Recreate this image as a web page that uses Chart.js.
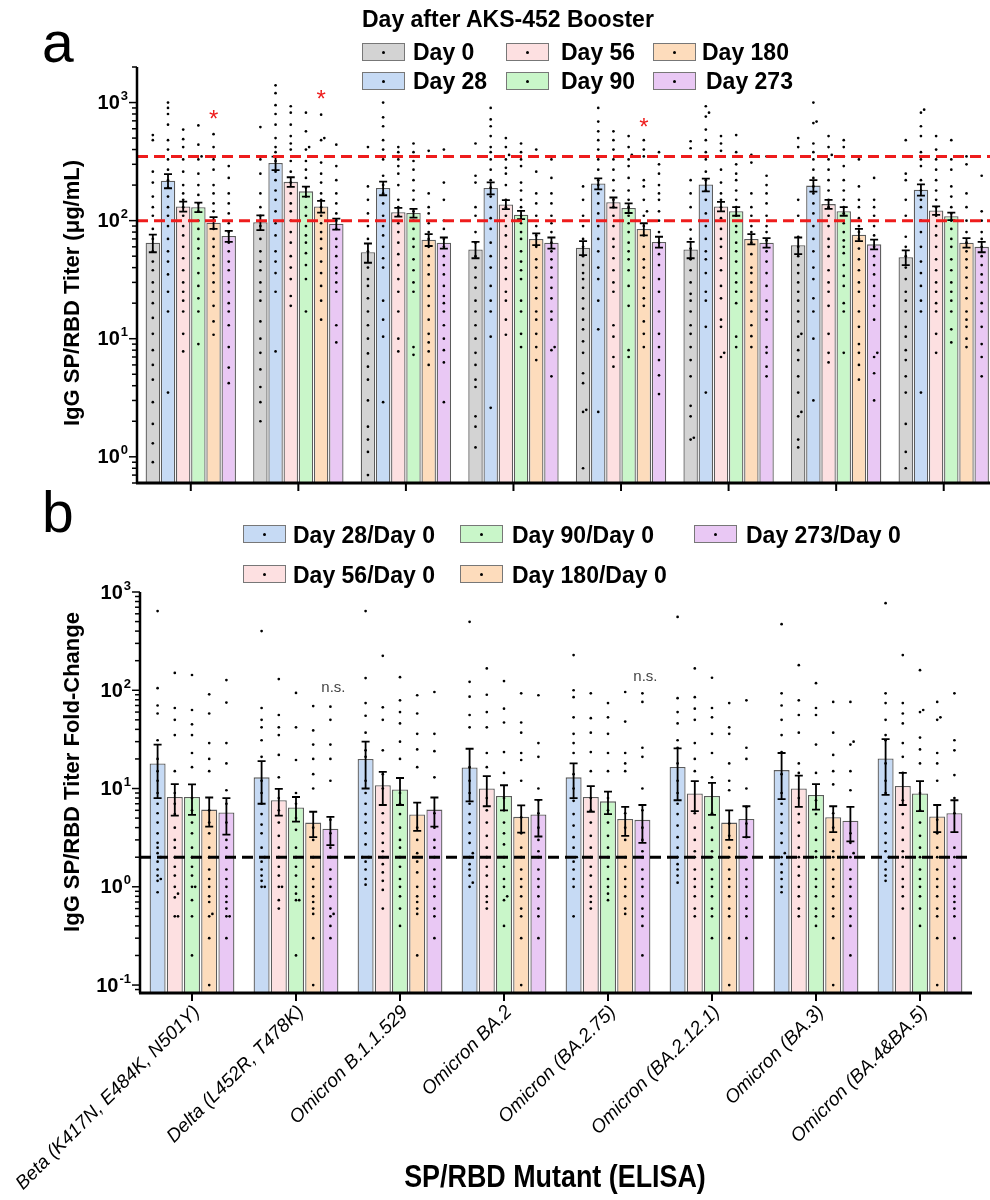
<!DOCTYPE html>
<html>
<head>
<meta charset="utf-8">
<script src="https://cdn.jsdelivr.net/npm/chart.js@4.4.1/dist/chart.umd.min.js"></script>
<style>
  html, body { margin: 0; padding: 0; overflow: hidden; background: #fff; }
  #wrap { position: relative; width: 990px; height: 1200px; overflow: hidden; font-family: 'Liberation Sans', Arial, sans-serif; color: #000; }
  canvas { position: absolute; left: 0; }
  .t { position: absolute; white-space: nowrap; line-height: 1; }
  .lg { position: absolute; white-space: nowrap; font-weight: bold; font-size: 23px; line-height: 1; }
  .box { position: absolute; width: 41px; height: 16px; border: 1.5px solid #777; }
  .box::after { content: ''; position: absolute; left: 50%; top: 50%; width: 3px; height: 3px; margin: -1.5px 0 0 -1.5px; background: #000; border-radius: 50%; }
  .rot { position: absolute; white-space: nowrap; line-height: 1; font-weight: bold; transform: translate(-50%, -50%) rotate(-90deg); }
</style>
</head>
<body>
<div id="wrap">
  <canvas id="chartA" width="1000" height="500" style="top:0;width:1000px;height:500px"></canvas>
  <canvas id="chartB" width="990" height="700" style="top:500px;width:990px;height:700px"></canvas>

  <div class="t" style="left:42px;top:14px;font-size:57px">a</div>
  <div class="t" style="left:42px;top:484px;font-size:57px">b</div>

  <div class="lg" style="left:362px;top:8px">Day after AKS-452 Booster</div>
  <div class="box" style="left:362px;top:43px;background:#d3d3d3"></div><div class="lg" style="left:413px;top:41px">Day 0</div>
  <div class="box" style="left:506px;top:43px;background:#fde0e1"></div><div class="lg" style="left:561px;top:41px">Day 56</div>
  <div class="box" style="left:653px;top:43px;background:#fddcbc"></div><div class="lg" style="left:702px;top:41px">Day 180</div>
  <div class="box" style="left:362px;top:72px;background:#c6daf4"></div><div class="lg" style="left:413px;top:70px">Day 28</div>
  <div class="box" style="left:506px;top:72px;background:#c9f6c9"></div><div class="lg" style="left:561px;top:70px">Day 90</div>
  <div class="box" style="left:653px;top:72px;background:#e9c8f4"></div><div class="lg" style="left:706px;top:70px">Day 273</div>

  <div class="box" style="left:243px;top:525px;background:#c6daf4"></div><div class="lg" style="left:293px;top:524px">Day 28/Day 0</div>
  <div class="box" style="left:460px;top:525px;background:#c9f6c9"></div><div class="lg" style="left:512px;top:524px">Day 90/Day 0</div>
  <div class="box" style="left:694px;top:525px;background:#e9c8f4"></div><div class="lg" style="left:746px;top:524px">Day 273/Day 0</div>
  <div class="box" style="left:243px;top:565px;background:#fde0e1"></div><div class="lg" style="left:293px;top:564px">Day 56/Day 0</div>
  <div class="box" style="left:460px;top:565px;background:#fddcbc"></div><div class="lg" style="left:512px;top:564px">Day 180/Day 0</div>

  <div class="rot" style="left:72px;top:293px;font-size:22px">IgG SP/RBD Titer (μg/mL)</div>
  <div class="rot" style="left:72px;top:772px;font-size:22px">IgG SP/RBD Titer Fold-Change</div>
  <div class="t" style="left:555px;top:1160px;font-size:32px;font-weight:bold;transform:translateX(-50%) scaleX(0.84)">SP/RBD Mutant (ELISA)</div>
</div>

<script>
// ---- data ----
const mutants = ['Beta (K417N, E484K, N501Y)', 'Delta (L452R, T478K)', 'Omicron B.1.1.529', 'Omicron BA.2',
  'Omicron (BA.2.75)', 'Omicron (BA.2.12.1)', 'Omicron (BA.3)', 'Omicron (BA.4&BA.5)'];

// panel a: mean titer (ug/mL) per mutant
const meanDay0   = [65, 97, 54, 57, 59, 57, 62, 49];
const meanDay28  = [218, 308, 189, 189, 206, 202, 198, 183];
const meanDay56  = [132, 213, 118, 137, 143, 132, 138, 122];
const meanDay90  = [130, 177, 116, 112, 128, 120, 120, 109];
const meanDay180 = [96, 132, 69, 70, 85, 70, 76, 65];
const meanDay273 = [74, 94, 65, 65, 66, 65, 63, 60];

const semDay0   = [11, 14, 10, 9, 8, 9, 10, 7];
const semDay28  = [30, 40, 25, 22, 22, 25, 22, 20];
const semDay56  = [13, 20, 10, 12, 14, 12, 12, 10];
const semDay90  = [12, 17, 10, 9, 12, 10, 10, 8];
const semDay180 = [11, 15, 8, 8, 10, 7, 9, 6];
const semDay273 = [8, 10, 7, 7, 7, 6, 6, 6];

// individual subjects (approximate)
const dotsDay0 = [
  [530,480,260,210,160,130,110,85,70,55,45,38,30,25,20,15,11,8,6,4.5,2.9,1.9,1.3,0.9],
  [620,330,250,170,130,110,90,70,55,45,38,30,25,21,14,10,7.6,5.5,3.9,2.9,2.0],
  [420,195,150,115,90,70,55,40,32,28,22,17,13,10,7.5,5.8,4.5,3,1.8,1.4,1.1,0.7],
  [450,240,210,130,110,80,65,50,40,33,27,21,17,13,10,7.6,6,4.5,3.9,2.2,1.8,1.2],
  [195,150,110,90,70,60,50,42,36,32,27,22,18,14.5,12,9.5,7.6,5.1,4.2,2.5,2.4,0.8],
  [470,410,220,170,130,84,70,58,47,38,30,24,21,17,13,11,8.5,6.6,4.8,2.7,2.2,1.45,1.4],
  [500,420,150,110,73,60,50,42,36,30,25,21,17,14,11,10.4,8,6.6,4.8,3.5,2.4,2.2,1.4,1.2],
  [480,350,250,220,150,110,73,60,50,40,32,25,21,17,12.6,10.4,8,6.6,4.8,3.5,1.9,1.1,0.8]
];
const dotsDay28 = [
  [1000,900,800,650,480,400,330,270,220,190,160,130,110,90,70,55,45,35,25,17,3.5],
  [1400,1200,950,800,650,500,420,380,320,260,220,180,150,120,95,75,55,45,36,25,7.8],
  [1000,750,630,480,400,330,240,200,170,140,110,90,75,60,48,40,21,14.5,10.4,2.9],
  [900,720,630,520,420,380,330,270,220,190,160,130,105,85,65,50,40,28,21,17,10.4,2.6],
  [900,690,570,480,400,330,270,220,200,170,140,115,90,70,55,40,32,21,12,2.4],
  [930,820,760,590,480,380,330,260,220,180,150,115,90,70,55,47,36,25,21,12.6,3.5],
  [1000,690,670,450,380,330,270,230,195,170,140,115,90,70,55,40,32,22,17,10,3],
  [870,820,630,520,380,330,290,220,180,150,130,100,80,60,45,36,28,21,17,3.5]
];
const dotsDay56 = [
  [590,490,420,330,260,200,170,150,130,110,90,75,60,48,38,30,25,21,17,11,7.8],
  [930,820,650,520,450,400,320,260,210,170,140,120,100,80,65,50,40,32,23,19],
  [420,380,330,290,250,200,150,130,110,95,80,65,52,42,32,25,17,10,7.8],
  [500,420,360,330,280,250,200,150,130,110,90,75,60,48,40,32,25,21,14.5,10.8],
  [570,480,400,330,270,220,180,150,130,110,90,70,60,48,38,30,25,13,10.4,7,5.8],
  [520,450,390,350,270,210,170,150,130,105,85,70,60,48,38,28,22,14.5,12.6,7.6,7],
  [520,420,360,330,270,220,180,150,130,110,90,70,60,50,38,30,25,19,11,7.6,6.3],
  [520,400,330,270,220,180,150,130,110,90,75,60,47,38,30,25,20,17,11,7.6]
];
const dotsDay90 = [
  [640,440,350,330,250,200,165,140,120,100,85,70,58,48,36,28,22,17,9],
  [820,570,420,400,320,270,230,190,160,130,110,90,75,65,53,42,32,17],
  [450,380,320,270,220,180,150,120,100,85,70,60,47,38,30,25,8.5,7.3],
  [450,380,330,290,210,180,150,130,110,95,80,70,55,45,38,32,21,17,11,8.5],
  [520,420,360,330,290,230,180,150,130,110,95,80,65,55,47,38,28,19,8,7],
  [530,380,300,250,220,180,150,130,110,90,80,65,55,45,36,30,25,20,10.4,8.5],
  [480,420,350,290,220,180,150,130,115,95,80,68,60,53,42,34,28,20,17,7.6],
  [480,330,270,195,160,130,115,100,85,70,60,47,38,30,25,21,17,12,9.3]
];
const dotsDay180 = [
  [540,420,330,270,200,170,140,120,100,85,70,60,50,42,36,30,25,19,14,10.8],
  [790,500,480,310,250,210,170,150,130,110,95,80,70,58,45,36,28,21,14.5],
  [390,170,130,115,95,80,70,60,50,42,35,28,23,19,14.5,11,9.3,7.8,6],
  [400,260,170,140,110,90,75,60,47,40,33,27,22,17,14.5,11,8.5,6.6],
  [480,400,350,220,195,150,120,110,90,75,60,47,40,33,27,22,19,14,11,8.5],
  [360,310,170,130,110,90,80,65,52,40,36,30,25,21,17,13,10.5,8.5],
  [330,195,150,130,105,90,80,70,58,47,38,30,25,17,12.6,9,7.6,6,4.5],
  [350,300,170,130,100,80,65,55,47,40,33,27,22,17,14.5,12.6,10,8.5]
];
const dotsDay273 = [
  [350,290,230,170,140,115,95,80,65,55,45,38,30,25,20,17,13,8.5,5.7,4.2],
  [440,290,220,170,140,115,100,85,70,60,50,40,36,30,25,13,9.3],
  [400,210,150,100,85,70,60,50,42,35,28,23,20,17,13,10,8,6.3,2.9],
  [330,230,170,140,110,95,80,65,55,47,40,33,27,22,17,14.5,8.5,8,4.8],
  [380,300,250,200,170,150,120,100,80,65,52,42,32,25,17,11,8.5,6.6,4.9,3.4],
  [350,240,200,170,140,110,90,80,68,55,45,36,28,21,17,14.5,8.5,7.6,5.8,4.8],
  [230,150,130,110,90,75,60,50,42,35,28,23,19,14.5,7.6,7,5.1,3],
  [240,120,100,80,70,60,50,42,35,30,25,20,17,12.6,9,7,4.8]
];
const thresholdsA = [100, 350];
const starDay180 = [760, 1130, null, null, 650, null, null, null];

// panel b: fold change vs Day 0
const fold28  = [18, 13, 20, 16.4, 13, 16.6, 15.4, 20.2];
const fold56  = [8.2, 7.6, 10.8, 10, 8.2, 8.9, 10, 10.6];
const fold90  = [8.2, 6.4, 9.8, 8.4, 7.4, 8.4, 8.6, 8.9];
const fold180 = [6.1, 4.5, 5.45, 5.15, 4.9, 4.5, 5.1, 5.2];
const fold273 = [5.7, 3.9, 6.1, 5.45, 4.8, 4.9, 4.7, 5.6];

const semFold28  = [10, 6, 10, 9, 5, 9, 7.6, 11.6];
const semFold56  = [2.9, 2.3, 4, 3.4, 2.4, 3, 3.5, 3.8];
const semFold90  = [2.8, 1.8, 3, 2.4, 1.9, 3, 2.5, 3];
const semFold180 = [2, 1.3, 1.75, 1.6, 1.6, 1.5, 1.5, 1.6];
const semFold273 = [2.3, 1.25, 2, 2.2, 2, 1.7, 1.8, 2];

const dotsFold28 = [
  [640,105,70,58,31,20,15,12,9,7,5.6,4.5,3.5,2.8,2.5,2.2,2,1.8,1.5,1.3,1.2,1.15,0.88],
  [400,66,50,42,31,21,12,9,7,5.5,4.3,3.5,2.5,2,1.8,1.5,1.3,1.15,1,1],
  [640,133,74,55,37,24.5,21,12,9,7,5.5,4.5,3.5,2.7,2,2,1.8,1.5,1.2,1.05],
  [497,122,86,56,42,16.5,12,9,7,5.5,4.5,3.5,2.8,2.2,2,1.7,1.5,1.3,1.1,1],
  [228,100,85,53,36,29,23,14,10,7.5,5.5,4.2,3.2,2.5,2,1.8,1.5,1.2,1,0.5],
  [558,83,60,46,31,26,18,12,9,7,5.5,4.2,3.2,2.5,2,1.7,1.5,1.3,1.1],
  [471,93,70,50,35,23.5,14,9,7,5.5,4.5,3.5,2.8,2.2,2,1.7,1.4,1.2,1,0.88],
  [770,93,74,50,35,31,18,12,9,7,5.5,4.5,3.5,2.8,2.3,2,1.8,1.5,1.3,1.15]
];
const dotsFold56 = [
  [150,66,50,35,15,9,7,5.5,4,3,2.5,2,1.6,1.3,1,0.85,0.78,0.5,0.5],
  [130,56,42,35,22,13,8,6,4.5,3.3,2.5,2,1.6,1.3,1,1,0.73,0.6],
  [224,67,50,24.5,14,10,5.6,4.5,3.5,2.8,2.3,2,1.7,1.4,1.15,0.93,0.6],
  [167,90,60,42,23,16.5,8,6,4.5,3.3,2.5,2,1.6,1.3,1,0.8,0.7,0.6],
  [93,52,37,23.5,15,8,6,4.5,3.3,2.5,2,1.6,1.3,1,0.8,0.7,0.6],
  [167,85,65,50,29,20,15,5.6,4,3,2.3,2,1.5,1.2,1,0.8,0.6,0.5],
  [180,79,56,37,18,14.4,8,5.5,4.5,3.3,2.5,2,1.6,1.3,1,0.8,0.6,0.5],
  [228,74,58,46,29,21,14.4,7.6,5.5,4,3,2.3,2,1.6,1.2,1,0.8,0.6]
];
const dotsFold90 = [
  [143,63,45,35,23,16.5,8,6,4.5,3.5,2.5,2,1.6,1.3,1,1,0.73,0.5,0.2],
  [94,42,19.5,9,7,5,3.8,2.5,2,1.6,1.3,1,0.85,0.73,0.73,0.2],
  [136,79,60,46,30,20,9,7,5.5,4,3,2.5,2,1.6,1.2,1,0.8,0.6,0.4],
  [124,65,47,23.5,14.4,8,6,4.5,3.5,2.7,2,1.6,1.2,1,0.8,0.73,0.4],
  [74,53,36,23,15,8,6,4.5,3.3,2.5,2,1.6,1.2,1,0.85,0.73],
  [134,66,53,36,23,13,5.6,4,3,2.3,2,1.5,1.2,1,0.8,0.6,0.5,0.3],
  [118,66,56,28,14.4,7.6,5.5,4,3,2.3,2,1.5,1.2,1,0.8,0.6,0.5,0.4],
  [160,63,60,33,25,18,9,6,4.5,3.3,2.5,2,1.5,1.2,1,0.8,0.6,0.4]
];
const dotsFold180 = [
  [91,58,29,20,15,6,4.5,3.5,2.5,2,1.5,1.2,1,0.8,0.7,0.53,0.5,0.3,0.1],
  [69,39,28,20,14,10,4,3,2,1.6,1.2,1,0.8,0.7,0.6,0.53,0.3,0.1],
  [89,58,36,25,16.5,4,3,2.2,1.8,1.4,1,0.8,0.7,0.6,0.53,0.2],
  [93,47,37,23,19.5,12,5.1,3.5,2.5,2,1.5,1.2,1,0.8,0.6,0.5,0.3,0.1],
  [96,48,23,18,15,5.6,4,3,2,1.6,1.2,1,0.8,0.6,0.53],
  [74,42,36,18,12,9.6,4.4,3.3,2.5,2,1.5,1.2,1,0.8,0.6,0.5,0.3,0.1],
  [76,37,22,15,11,5.6,4,3,2.3,2,1.5,1.2,1,0.8,0.6,0.5,0.3,0.1],
  [76,53,50,23,18,12,4.8,3.5,2.5,2,1.5,1.2,1,0.8,0.6,0.5,0.3,0.1]
];
const dotsFold273 = [
  [127,75,29,18,9.6,7,4.5,3,2.5,2,1.5,1.2,1,0.8,0.7,0.6,0.5,0.5,0.3],
  [68,50,28,20,12,4.8,3.5,2.5,2,1.5,1.2,1,0.8,0.6,0.53,0.5,0.4,0.3],
  [96,36,24,13,5.6,4,3,2.5,2,1.5,1.2,1,0.8,0.6,0.5,0.3],
  [89,29,21,10,7.6,5.6,4,3,2.3,2,1.5,1.2,1,0.8,0.6,0.5,0.3],
  [93,76,26,21,10,6,4,3,2.3,2,1.5,1.2,1,0.8,0.6,0.5,0.4,0.2],
  [79,26,20,10,6.5,4.4,3.2,2.5,2,1.5,1.2,1,0.8,0.6,0.5,0.3],
  [76,30,28,15,9.6,3.5,2.8,2.2,2,1.5,1.2,1,0.8,0.6,0.5,0.4,0.2],
  [93,31,24.5,13.7,8,5.6,2.5,2,1.6,1.2,1,0.8,0.7,0.6,0.5,0.3]
];
const thresholdB = 2;
const nsFold273 = [null, 107, null, null, 136, null, null, null];

// ---- drawing helpers ----
const FONT = '"Liberation Sans", Arial, sans-serif';

// swarm-style placement: dots that would overlap get pushed sideways
function drawDots(ctx, cx, w, vals, y) {
  const placed = [];
  const step = 3.2, half = w / 2 - 2;
  ctx.fillStyle = '#000';
  vals.slice().sort((a, b) => a - b).forEach(v => {
    const py = y.getPixelForValue(v);
    let k = 0, px = cx;
    for (;;) {
      const off = (k % 2 ? 1 : -1) * Math.ceil(k / 2) * step;
      px = cx + off;
      const hit = placed.some(p => Math.abs(p[0] - px) < 3 && Math.abs(p[1] - py) < 4.5);
      if (!hit || Math.abs(off) > half) break;
      k++;
    }
    placed.push([px, py]);
    ctx.beginPath();
    ctx.arc(px, py, 1.35, 0, Math.PI * 2);
    ctx.fill();
  });
}

function drawErr(ctx, cx, m, e, y) {
  const top = y.getPixelForValue(m + e);
  const bot = y.getPixelForValue(Math.max(m - e, y.min));
  ctx.strokeStyle = '#000';
  ctx.lineWidth = 1.8;
  ctx.beginPath();
  ctx.moveTo(cx, top); ctx.lineTo(cx, bot);
  ctx.moveTo(cx - 4, top); ctx.lineTo(cx + 4, top);
  ctx.moveTo(cx - 4, bot); ctx.lineTo(cx + 4, bot);
  ctx.stroke();
}

function drawAxes(chart, withLabels) {
  const { ctx, chartArea: a, scales: { x, y } } = chart;
  ctx.save();
  ctx.strokeStyle = '#000';
  ctx.fillStyle = '#000';
  // y axis with log ticks
  ctx.lineWidth = 2.5;
  ctx.beginPath(); ctx.moveTo(a.left, a.top); ctx.lineTo(a.left, a.bottom); ctx.stroke();
  ctx.lineWidth = 1.5;
  const e0 = Math.floor(Math.log10(y.min)), e1 = Math.ceil(Math.log10(y.max));
  for (let e = e0; e <= e1; e++) {
    for (let m = 1; m <= 9; m++) {
      const v = m * Math.pow(10, e);
      if (v < y.min * 0.999 || v > y.max * 1.001) continue;
      const py = y.getPixelForValue(v);
      ctx.beginPath(); ctx.moveTo(a.left, py); ctx.lineTo(a.left - (m === 1 ? 8 : 5), py); ctx.stroke();
      if (m === 1) {
        ctx.font = 'bold 13px ' + FONT;
        const sup = String(e);
        const sw = ctx.measureText(sup).width;
        ctx.textBaseline = 'middle';
        ctx.textAlign = 'left';
        ctx.fillText(sup, a.left - 9 - sw, py - 6);
        ctx.font = 'bold 20px ' + FONT;
        ctx.textAlign = 'right';
        ctx.fillText('10', a.left - 10 - sw, py + 1);
      }
    }
  }
  // x axis
  ctx.lineWidth = 3;
  ctx.beginPath(); ctx.moveTo(a.left - 1, a.bottom); ctx.lineTo(a.right, a.bottom); ctx.stroke();
  ctx.lineWidth = 2;
  mutants.forEach((lab, i) => {
    const px = x.getPixelForValue(i);
    ctx.beginPath(); ctx.moveTo(px, a.bottom); ctx.lineTo(px, a.bottom + 8); ctx.stroke();
    if (withLabels) {
      ctx.save();
      ctx.font = 'italic 19px ' + FONT;
      ctx.textAlign = 'right';
      ctx.textBaseline = 'middle';
      ctx.translate(px + 5, a.bottom + 16);
      ctx.rotate(-Math.PI / 4);
      ctx.fillText(lab, 0, 0);
      ctx.restore();
    }
  });
  ctx.restore();
}

function dashed(chart, v, color) {
  const { ctx, chartArea: a, scales: { y } } = chart;
  const py = y.getPixelForValue(v);
  ctx.save();
  ctx.strokeStyle = color;
  ctx.lineWidth = 3;
  ctx.setLineDash([11, 6]);
  ctx.beginPath(); ctx.moveTo(a.left, py); ctx.lineTo(a.right, py); ctx.stroke();
  ctx.restore();
}

function panelPlugin(dots, sems, extra) {
  return {
    id: 'panelDecor',
    afterDatasetsDraw(chart) {
      const { ctx, scales: { y } } = chart;
      ctx.save();
      chart.data.datasets.forEach((ds, d) => {
        chart.getDatasetMeta(d).data.forEach((bar, i) => {
          drawDots(ctx, bar.x, bar.width, dots[d][i], y);
        });
      });
      chart.data.datasets.forEach((ds, d) => {
        chart.getDatasetMeta(d).data.forEach((bar, i) => {
          drawErr(ctx, bar.x, ds.data[i], sems[d][i], y);
        });
      });
      ctx.restore();
      extra(chart);
    }
  };
}

const edge = '#5c5c5c';
function barSet(label, data, color, bp, cp) {
  return { label, data, backgroundColor: color, borderColor: edge, borderWidth: 1.3,
           barPercentage: bp, categoryPercentage: cp };
}

// ---- panel a ----
new Chart(document.getElementById('chartA'), {
  type: 'bar',
  data: {
    labels: mutants,
    datasets: [
      barSet('Day 0', meanDay0, '#d3d3d3', 0.95, 0.847),
      barSet('Day 28', meanDay28, '#c6daf4', 0.95, 0.847),
      barSet('Day 56', meanDay56, '#fde0e1', 0.95, 0.847),
      barSet('Day 90', meanDay90, '#c9f6c9', 0.95, 0.847),
      barSet('Day 180', meanDay180, '#fddcbc', 0.95, 0.847),
      barSet('Day 273', meanDay273, '#e9c8f4', 0.95, 0.847)
    ]
  },
  options: {
    responsive: false, animation: false, devicePixelRatio: 1,
    layout: { padding: { left: 137, right: 2.5, top: 67, bottom: 17 } },
    scales: {
      x: { display: false },
      y: { type: 'logarithmic', display: false, min: 0.6, max: 2000 }
    },
    plugins: { legend: { display: false }, tooltip: { enabled: false } }
  },
  plugins: [panelPlugin(
    [dotsDay0, dotsDay28, dotsDay56, dotsDay90, dotsDay180, dotsDay273],
    [semDay0, semDay28, semDay56, semDay90, semDay180, semDay273],
    chart => {
      thresholdsA.forEach(v => dashed(chart, v, '#ee1c1c'));
      const ctx = chart.ctx, y = chart.scales.y;
      const meta = chart.getDatasetMeta(4);
      ctx.save();
      ctx.fillStyle = '#ee1c1c';
      ctx.font = '24px ' + FONT;
      ctx.textAlign = 'center';
      ctx.textBaseline = 'middle';
      starDay180.forEach((v, i) => {
        if (v != null) ctx.fillText('*', meta.data[i].x, y.getPixelForValue(v) + 4);
      });
      ctx.restore();
      drawAxes(chart, false);
    })]
});

// ---- panel b ----
new Chart(document.getElementById('chartB'), {
  type: 'bar',
  data: {
    labels: mutants,
    datasets: [
      barSet('Day 28/Day 0', fold28, '#c6daf4', 0.93, 0.827),
      barSet('Day 56/Day 0', fold56, '#fde0e1', 0.93, 0.827),
      barSet('Day 90/Day 0', fold90, '#c9f6c9', 0.93, 0.827),
      barSet('Day 180/Day 0', fold180, '#fddcbc', 0.93, 0.827),
      barSet('Day 273/Day 0', fold273, '#e9c8f4', 0.93, 0.827)
    ]
  },
  options: {
    responsive: false, animation: false, devicePixelRatio: 1,
    layout: { padding: { left: 140, right: 18, top: 92, bottom: 207 } },
    scales: {
      x: { display: false },
      y: { type: 'logarithmic', display: false, min: 0.083, max: 1000 }
    },
    plugins: { legend: { display: false }, tooltip: { enabled: false } }
  },
  plugins: [panelPlugin(
    [dotsFold28, dotsFold56, dotsFold90, dotsFold180, dotsFold273],
    [semFold28, semFold56, semFold90, semFold180, semFold273],
    chart => {
      dashed(chart, thresholdB, '#000');
      const ctx = chart.ctx, y = chart.scales.y;
      const meta = chart.getDatasetMeta(4);
      ctx.save();
      ctx.fillStyle = '#444';
      ctx.font = '15px ' + FONT;
      ctx.textAlign = 'center';
      ctx.textBaseline = 'middle';
      nsFold273.forEach((v, i) => {
        if (v != null) ctx.fillText('n.s.', meta.data[i].x + 3, y.getPixelForValue(v));
      });
      ctx.restore();
      drawAxes(chart, true);
    })]
});
</script>
</body>
</html>
